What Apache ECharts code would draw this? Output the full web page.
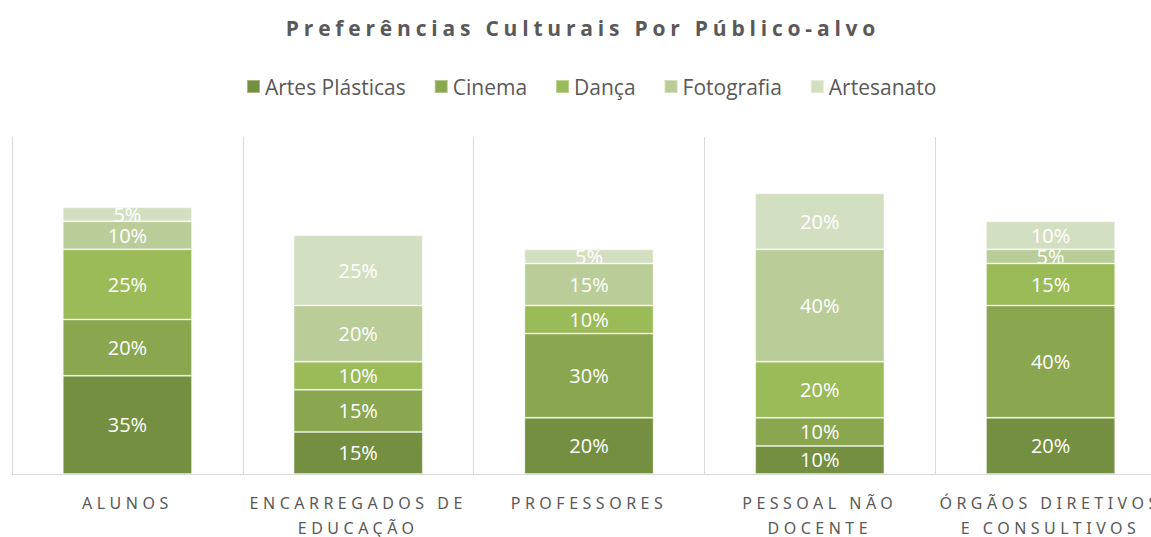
<!DOCTYPE html>
<html>
    <head>
        <meta charset="UTF-8">
        <title>Preferências Culturais Por Público-alvo</title>
        <style type="text/css">
            body,html{ margin: 0; width: 100vw; height: 100vh; overflow: hidden; background: #fff;}
            .chart-wrap{ width: 1151px; height: 537px; overflow: hidden; position: relative;}
            /* o gráfico original passa um pouco da margem direita */
            .chart-box{ width: 1166px; height: 537px;}
            /* espaçamento entre letras (renderer svg) */
            .chart-box text[style*="bold"]{ letter-spacing: 4.8px;}
            .chart-box text[style*="Noto Sans"]{ letter-spacing: 4.5px;}
        </style>
    </head>
    <body>
        <div class="chart-wrap">
            <div class="chart-box" id="chart"></div>
        </div>

        <script src="https://cdn.jsdelivr.net/npm/echarts@6/dist/echarts.min.js"></script>
        <script type="text/javascript">
            var categorias = ['ALUNOS', 'ENCARREGADOS DE\nEDUCAÇÃO', 'PROFESSORES', 'PESSOAL NÃO\nDOCENTE', 'ÓRGÃOS DIRETIVOS\nE CONSULTIVOS'];
            var nomesSeries = ['Artes Plásticas', 'Cinema', 'Dança', 'Fotografia', 'Artesanato'];
            var artesPlasticas = [35, 15, 20, 10, 20];
            var cinema = [20, 15, 30, 10, 40];
            var danca = [25, 10, 10, 20, 15];
            var fotografia = [10, 20, 15, 40, 5];
            var artesanato = [5, 25, 5, 20, 10];
            var cores = ['#758f40', '#8aa64f', '#9bbb59', '#bacd98', '#d3dfc1'];

            var valores = [artesPlasticas, cinema, danca, fotografia, artesanato];

            // svg para poder usar letter-spacing no css
            var myChart = echarts.init(document.getElementById('chart'), null, {renderer: 'svg'});

            var option = {
                animation: false,
                title: {
                    text: 'Preferências Culturais Por Público-alvo',
                    left: 'center',
                    top: 12,
                    textStyle: {
                        fontFamily: 'Open Sans',
                        fontWeight: 'bold',
                        fontSize: 21,
                        color: '#595959'
                    }
                },
                legend: {
                    data: nomesSeries,
                    top: 71,
                    left: 241,
                    icon: 'rect',
                    itemWidth: 13,
                    itemHeight: 13,
                    itemGap: 28,
                    textStyle: {
                        fontFamily: 'Open Sans',
                        fontSize: 21,
                        color: '#595959'
                    }
                },
                grid: {
                    left: 12,
                    right: 0,
                    top: 137,
                    height: 337,
                    outerBoundsMode: 'none' // não encolher a grelha por causa das etiquetas
                },
                xAxis: {
                    type: 'category',
                    data: categorias,
                    axisLine: { lineStyle: { color: '#d9d9d9', width: 1 } },
                    axisTick: { show: false },
                    splitLine: { show: true, interval: 0, lineStyle: { color: '#d9d9d9', width: 1 } },
                    axisLabel: {
                        interval: 0,
                        margin: 16,
                        fontFamily: 'Noto Sans',
                        fontSize: 16,
                        lineHeight: 25,
                        color: '#595959'
                    }
                },
                yAxis: {
                    type: 'value',
                    min: 0,
                    max: 120,
                    show: false
                },
                series: nomesSeries.map(function (nome, i) {
                    return {
                        name: nome,
                        type: 'bar',
                        stack: 'total',
                        barWidth: '56%',
                        data: valores[i],
                        itemStyle: {
                            color: cores[i],
                            borderColor: 'rgba(255,255,255,0.35)',
                            borderWidth: 1
                        },
                        label: {
                            show: true,
                            position: 'inside',
                            formatter: '{c}%',
                            fontFamily: 'Open Sans',
                            fontSize: 20,
                            color: '#fff'
                        }
                    };
                })
            };

            myChart.setOption(option);
        </script>
    </body>
</html>
